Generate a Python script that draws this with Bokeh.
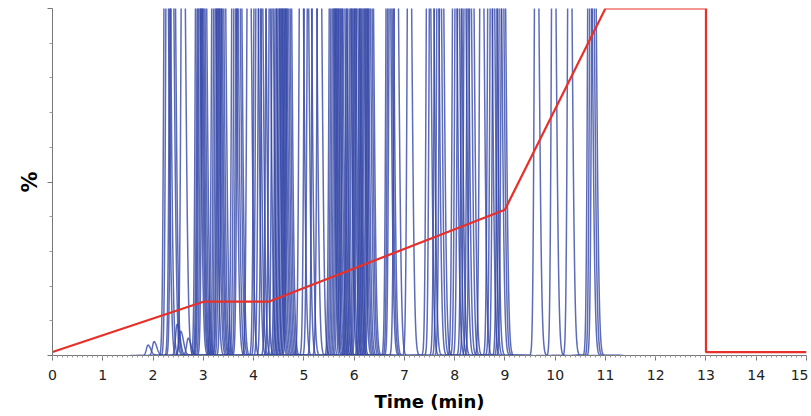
import numpy as np
from bokeh.plotting import figure
from bokeh.models import Range1d, SingleIntervalTicker, FixedTicker, ColumnDataSource
from bokeh.embed import file_html
from bokeh.resources import INLINE

# ---- data ----
# retention times (min) of the overlaid chromatogram peaks
peak_times = [
    2.25, 2.29, 2.36, 2.39, 2.59,
    2.88, 2.91, 2.93, 2.95, 2.98, 3.01,
    3.20, 3.24, 3.27, 3.30, 3.32, 3.35, 3.39,
    3.60, 3.64, 3.68, 3.71, 3.90,
    4.04, 4.08, 4.13, 4.19, 4.28, 4.34, 4.40,
    4.46, 4.49, 4.52, 4.55, 4.58, 4.61, 4.64, 4.67, 4.70, 4.94,
    5.04, 5.10, 5.20, 5.30,
    5.54, 5.57, 5.60, 5.63, 5.66, 5.69, 5.72, 5.76, 5.80,
    5.88, 5.91, 5.95, 5.98, 6.02, 6.05, 6.08,
    6.14, 6.17, 6.20, 6.23, 6.27, 6.30, 6.33,
    6.67, 6.70, 6.73, 6.83, 7.09,
    7.47, 7.53, 7.63, 7.68, 7.73,
    7.99, 8.04, 8.09, 8.17, 8.22, 8.28, 8.33,
    8.53, 8.69, 8.74, 8.79, 8.88, 8.92, 8.96,
    9.62, 9.96, 10.28, 10.68, 10.72, 10.76,
    # small peaks near the baseline
    1.90, 2.02, 2.48, 2.55, 2.70,
]
peak_heights = [
    170, 180, 165, 175, 160,
    190, 170, 175, 180, 165, 175,
    170, 185, 170, 160, 175, 175, 170,
    180, 165, 170, 175, 160,
    170, 180, 165, 175, 170, 160, 180,
    170, 175, 165, 170, 180, 165, 170, 175, 175, 160,
    170, 165, 175, 170,
    180, 170, 170, 165, 165, 175, 175, 170, 170,
    170, 165, 180, 170, 165, 175, 170,
    175, 170, 170, 165, 165, 175, 170,
    180, 170, 175, 160, 165,
    170, 175, 170, 180, 165,
    170, 175, 165, 170, 180, 165, 170,
    160, 170, 175, 165, 170, 180, 165,
    170, 170, 165, 170, 175, 170,
    3, 4, 9, 7, 5,
]

# solvent gradient (%B) vs time
grad_time = [0, 3, 4.3, 9, 11, 13, 13, 15]
grad_pct = [1, 15.5, 15.5, 42, 100, 100, 1, 1]

y_ticks = [0, 50, 100]
y_minor = [10, 20, 30, 40, 60, 70, 80, 90]

# ---- build peak traces ----
xs, ys = [], []
for t, h in zip(peak_times, peak_heights):
    x = np.linspace(t - 0.35, t + 0.6, 240)
    sig = np.where(x < t, 0.032, 0.055)
    y = h * np.exp(-0.5 * ((x - t) / sig) ** 2)
    xs.append(x.tolist())
    ys.append(y.tolist())
src = ColumnDataSource(dict(xs=xs, ys=ys))

p = figure(width=808, height=414, x_range=Range1d(0, 15), y_range=Range1d(0, 100),
           output_backend="svg", toolbar_location=None,
           min_border_top=8, min_border_right=2, min_border_left=52, min_border_bottom=58)
p.outline_line_color = None
p.xgrid.grid_line_color = None
p.ygrid.grid_line_color = None
p.background_fill_color = "white"
p.border_fill_color = "white"

p.multi_line(xs="xs", ys="ys", source=src, line_color="#3447a8", line_alpha=0.8, line_width=1.5)
p.line(grad_time, grad_pct, line_color="#e8302a", line_width=2.2)

ax = p.xaxis[0]
ax.ticker = SingleIntervalTicker(interval=1, num_minor_ticks=10)
ax.axis_label = "Time (min)"
ax.axis_label_text_font = "DejaVu Sans"
ax.axis_label_text_font_style = "bold"
ax.axis_label_text_font_size = "18px"
ax.axis_label_text_color = "black"
ax.axis_label_standoff = 8
ax.major_label_text_font = "DejaVu Sans"
ax.major_label_text_font_size = "14px"
ax.major_label_text_color = "#222222"
ax.major_label_standoff = 9
ax.axis_line_color = "#777777"
ax.major_tick_line_color = "#777777"
ax.minor_tick_line_color = "#999999"
ax.major_tick_out = 5
ax.major_tick_in = 0
ax.minor_tick_out = 2
ax.minor_tick_in = 0

ay = p.yaxis[0]
ay.ticker = FixedTicker(ticks=y_ticks, minor_ticks=y_minor)
ay.major_label_overrides = {0: "", 50: "", 100: ""}
ay.major_label_standoff = 0
ay.axis_label = "%"
ay.axis_label_text_font = "DejaVu Sans"
ay.axis_label_text_font_style = "bold"
ay.axis_label_text_font_size = "21px"
ay.axis_label_text_color = "black"
ay.axis_label_standoff = 6
ay.axis_line_color = "#777777"
ay.major_tick_line_color = "#777777"
ay.minor_tick_line_color = "#999999"
ay.major_tick_out = 5
ay.major_tick_in = 0
ay.minor_tick_out = 3
ay.minor_tick_in = 0

open("out.html", "w").write(file_html(p, INLINE))
